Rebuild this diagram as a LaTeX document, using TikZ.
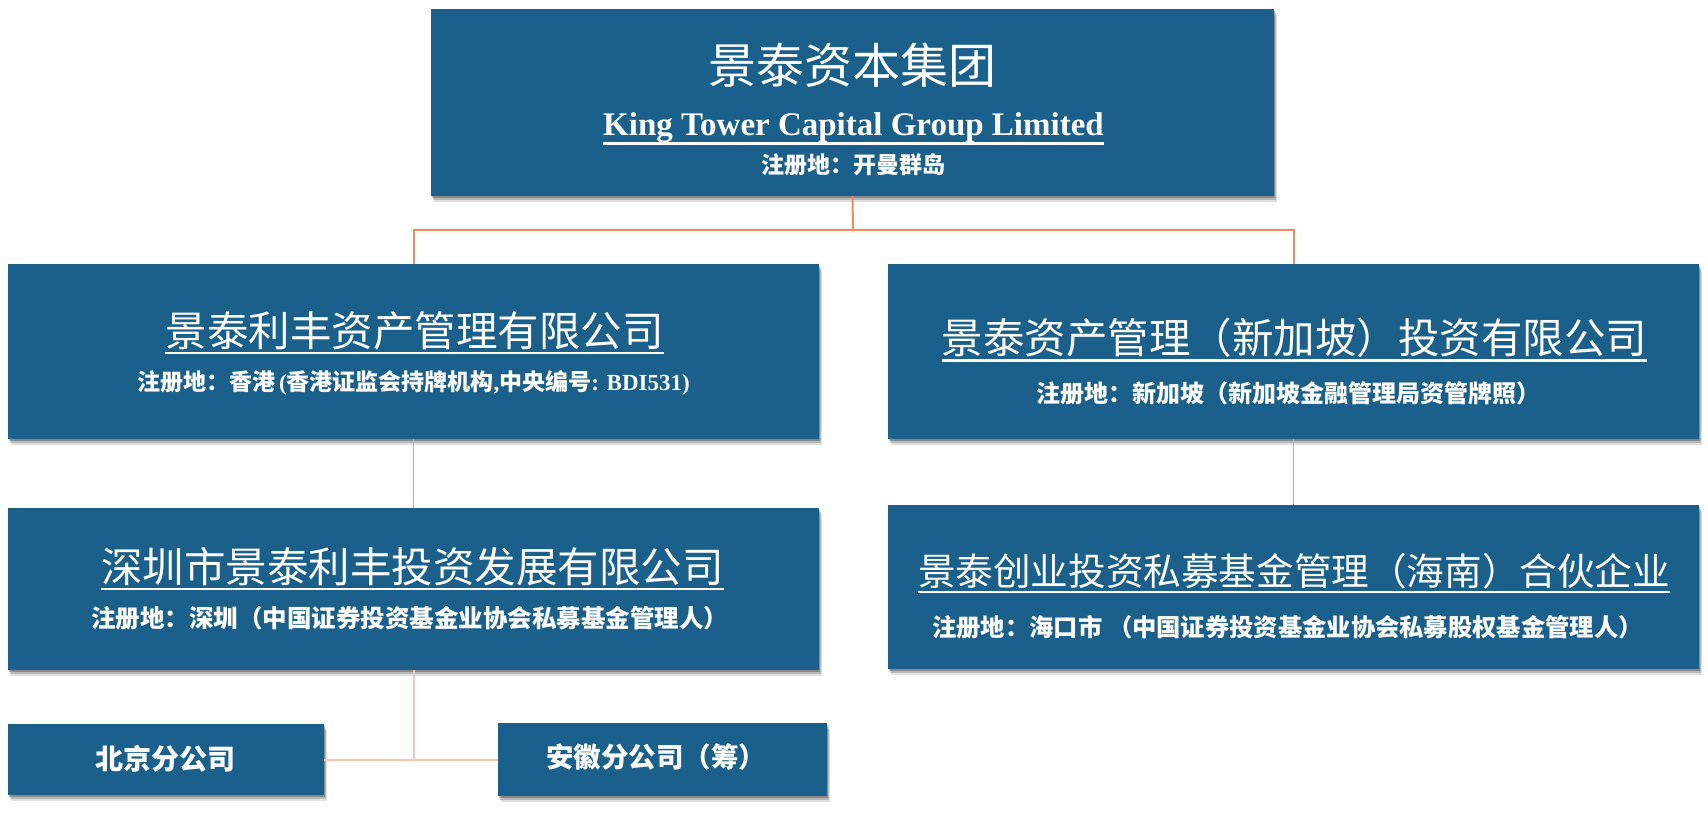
\documentclass[tikz,border=0pt]{standalone}
\usepackage{fontspec}
\setmainfont{Liberation Serif}
\newfontfamily\cjkfam{Noto Sans CJK SC}
\newcommand\cjk{\cjkfam\mdseries}
\newcommand\cjkb{\cjkfam\bfseries}
\newcommand\lat{\rmfamily\bfseries}
\newcommand\myfs[1]{\fontsize{#1}{#1}\selectfont}
\usetikzlibrary{shadows}
\definecolor{boxblue}{RGB}{26,96,138}
\definecolor{linkA}{RGB}{238,140,92}
\definecolor{linkB}{RGB}{236,160,130}
\definecolor{linkC}{RGB}{246,198,176}
\begin{document}
\begin{tikzpicture}[x=1pt,y=-1pt,
  orgbox/.style={rectangle, fill=boxblue, draw=none, inner sep=0pt,
    general shadow={shadow xshift=3pt, shadow yshift=-6pt, opacity=0.12, fill=black},
    general shadow={shadow xshift=2pt, shadow yshift=-4pt, opacity=0.18, fill=black},
    general shadow={shadow xshift=1pt, shadow yshift=-2pt, opacity=0.25, fill=black}},
  lbl/.style={text=white, inner sep=0pt, anchor=center},
  uline/.style={draw=white, line width=2.2pt},
  linkone/.style={draw=linkA, line width=2pt},
  linktwo/.style={draw=linkB, line width=1.3pt},
  linkthree/.style={draw=linkC, line width=2pt}]
\useasboundingbox (0,0) rectangle (1708,821);

% boxes
\node[orgbox, minimum width=843pt, minimum height=187pt] (top) at (852.5,102.5) {};
\node[orgbox, minimum width=811pt, minimum height=175pt] (l1) at (413.5,351.5) {};
\node[orgbox, minimum width=811pt, minimum height=175pt] (r1) at (1293.5,351.5) {};
\node[orgbox, minimum width=811pt, minimum height=162pt] (l2) at (413.5,589) {};
\node[orgbox, minimum width=811pt, minimum height=164pt] (r2) at (1293.5,587) {};
\node[orgbox, minimum width=316pt, minimum height=71pt] (bj) at (166,759.5) {};
\node[orgbox, minimum width=329pt, minimum height=73pt] (ah) at (662.5,759.5) {};

% connectors
\coordinate (j1) at (853,230);
\coordinate (j2) at (413.5,759.5);
\draw[linkone] (top.south) -- (j1);
\draw[linkone] (j1) -| (l1.north);
\draw[linkone] (j1) -| (r1.north);
\draw[linktwo] (l1.south) -- (l2.north);
\draw[linktwo] (r1.south) -- (r2.north);
\draw[linkthree] (l2.south) -- (j2);
\draw[linkthree] (bj.east) -- (ah.west);

% top box texts
\node[lbl] (topT) at (852,65) {\cjk\myfs{48}景泰资本集团};
\node[lbl, anchor=base] (topE) at (853.5,136) {\lat\myfs{33}King Tower Capital Group Limited};
\draw[uline] (topE.south west) -- (topE.south east);
\node[lbl] (topS) at (853.5,165) {\cjkb\myfs{23}注册地：开曼群岛};

% L1
\node[lbl] (l1T) at (414.5,331) {\cjk\myfs{41.5}景泰利丰资产管理有限公司};
\draw[uline] ([yshift=-2.5pt]l1T.south west) -- ([yshift=-2.5pt]l1T.south east);
\node[lbl] (l1S) at (413.5,383) {\myfs{23}\cjkb 注册地：香港\,\lat (\cjkb 香港证监会持牌机构\lat ,\cjkb 中央编号\lat : BDI531)};

% R1
\node[lbl] (r1T) at (1294.5,338) {\cjk\myfs{41.5}景泰资产管理（新加坡）投资有限公司};
\draw[uline] ([yshift=-2.5pt]r1T.south west) -- ([yshift=-2.5pt]r1T.south east);
\node[lbl] (r1S) at (1288,393) {\cjkb\myfs{24}注册地：新加坡（新加坡金融管理局资管牌照）};

% L2
\node[lbl] (l2T) at (412.5,567) {\cjk\myfs{41.5}深圳市景泰利丰投资发展有限公司};
\draw[uline] ([yshift=-2.5pt]l2T.south west) -- ([yshift=-2.5pt]l2T.south east);
\node[lbl] (l2S) at (409.5,618) {\cjkb\myfs{24.5}注册地：深圳（中国证券投资基金业协会私募基金管理人）};

% R2
\node[lbl] (r2T) at (1294,571) {\cjk\myfs{37.6}景泰创业投资私募基金管理（海南）合伙企业};
\draw[uline] ([yshift=-2.5pt]r2T.south west) -- ([yshift=-2.5pt]r2T.south east);
\node[lbl] (r2S) at (1287.5,627) {\cjkb\myfs{24.3}注册地：海口市 （中国证券投资基金业协会私募股权基金管理人）};

% branches
\node[lbl] (bjT) at (165.5,759) {\cjkb\myfs{28}北京分公司};
\node[lbl] (ahT) at (656,757) {\cjkb\myfs{27.5}安徽分公司（筹）};
\end{tikzpicture}
\end{document}
